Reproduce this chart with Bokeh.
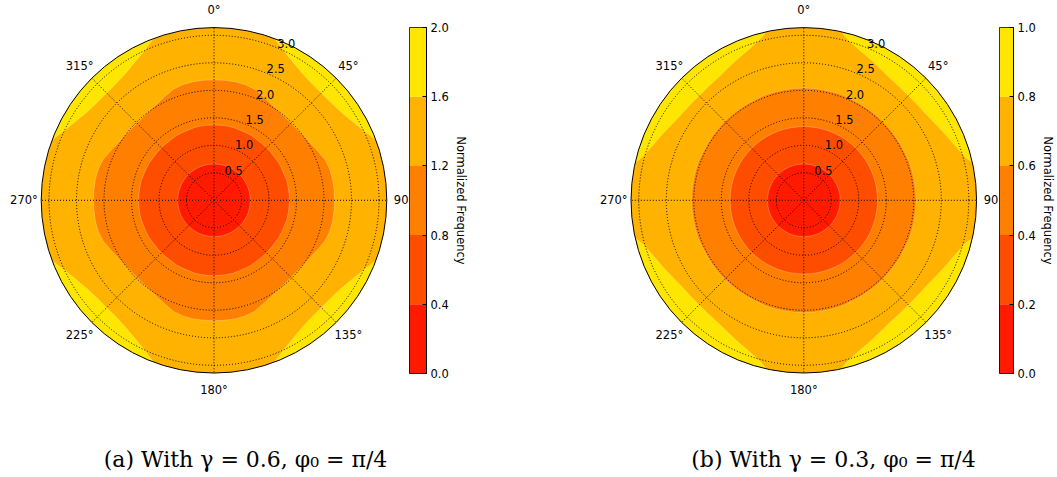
import numpy as np
from bokeh.plotting import figure
from bokeh.layouts import row
from bokeh.models import Range1d, FixedTicker, NumeralTickFormatter
from bokeh.core.properties import value
from bokeh.embed import file_html
from bokeh.resources import INLINE

# ---------------- data ----------------
levels_a = [0.0, 0.4, 0.8, 1.2, 1.6, 2.0]
levels_b = [0.0, 0.2, 0.4, 0.6, 0.8, 1.0]
band_colors = ["#ff1a00", "#ff4d00", "#ff8000", "#ffb300", "#ffe600"]

# contour boundary radii on the first octant (degrees clockwise from 0 deg)
octant_deg = [0, 5, 10, 15, 20, 25, 30, 35, 40, 45]

# (a) gamma = 0.6
a_r_lvl1 = [0.66, 0.66, 0.66, 0.66, 0.66, 0.66, 0.66, 0.66, 0.66, 0.66]
a_r_lvl2 = [1.37, 1.37, 1.37, 1.37, 1.36, 1.36, 1.36, 1.35, 1.35, 1.35]
a_r_lvl3 = [2.19, 2.19, 2.19, 2.18, 2.15, 2.09, 2.04, 2.01, 1.99, 1.98]
a_yellow_deg = [20.5, 25, 30, 35, 40, 45]
a_yellow_r = [3.1416, 3.00, 2.89, 2.81, 2.77, 2.76]

# (b) gamma = 0.3
b_r_lvl1 = [0.66, 0.66, 0.66, 0.66, 0.66, 0.66, 0.66, 0.66, 0.66, 0.66]
b_r_lvl2 = [1.34, 1.34, 1.34, 1.34, 1.34, 1.34, 1.34, 1.34, 1.34, 1.34]
b_r_lvl3 = [2.04, 2.04, 2.04, 2.04, 2.04, 2.03, 2.03, 2.03, 2.03, 2.03]
b_yellow_deg = [12.5, 15, 20, 25, 30, 35, 40, 45]
b_yellow_r = [3.1416, 3.04, 2.92, 2.84, 2.77, 2.72, 2.70, 2.69]

r_max = np.pi
ring_r = [0.5, 1.0, 1.5, 2.0, 2.5, 3.0]
ring_labels = ["0.5", "1.0", "1.5", "2.0", "2.5", "3.0"]
spoke_deg = [0, 45, 90, 135, 180, 225, 270, 315]
spoke_labels = ["0°", "45°", "90°", "135°", "180°", "225°", "270°", "315°"]
captions = ["(a) With γ = 0.6, φ₀ = π/4", "(b) With γ = 0.3, φ₀ = π/4"]
cbar_title = "Normalized Frequency"

FONT = "DejaVu Sans"
FS = "11.5px"
PX = 55.0  # pixels per radial unit
H = 477


def to_xy(deg, r):
    t = np.radians(np.asarray(deg, float))
    r = np.asarray(r, float)
    return r * np.sin(t), r * np.cos(t)


def closed_curve(deg, r):
    deg = np.asarray(deg, float)
    r = np.asarray(r, float)
    q_deg = np.concatenate([deg, 90 - deg[::-1][1:]])
    q_r = np.concatenate([r, r[::-1][1:]])
    all_deg = np.concatenate([q_deg[:-1] + 90 * k for k in range(4)])
    all_r = np.concatenate([q_r[:-1]] * 4)
    return to_xy(all_deg, all_r)


def corners(deg, r):
    deg = np.asarray(deg, float)
    r = np.asarray(r, float)
    side_deg = np.concatenate([deg, 90 - deg[::-1][1:]])
    side_r = np.concatenate([r, r[::-1][1:]])
    arc_deg = np.linspace(side_deg[-1], side_deg[0], 60)
    d = np.concatenate([side_deg, arc_deg])
    rr = np.concatenate([side_r, np.full(len(arc_deg), r_max)])
    xs, ys = [], []
    for k in range(4):
        x, y = to_xy(d + 90 * k, rr)
        xs.append(list(x))
        ys.append(list(y))
    return xs, ys


def polar_fig(width, cx, cy, lvl1, lvl2, lvl3, ydeg, yr, caption, cap_x):
    p = figure(width=width, height=H,
               x_range=Range1d(-cx / PX, (width - cx) / PX),
               y_range=Range1d(-(H - cy) / PX, cy / PX),
               output_backend="svg", toolbar_location=None, min_border=0,
               x_axis_location=None, y_axis_location=None, frame_align=False)
    p.xgrid.visible = False
    p.ygrid.visible = False
    p.outline_line_color = None
    p.background_fill_color = "white"
    p.border_fill_color = "white"

    # background band (1.2-1.6 / 0.6-0.8)
    p.circle(x=[0], y=[0], radius=r_max, fill_color=band_colors[3], line_color=None)
    # top band corners
    xs, ys = corners(ydeg, yr)
    p.patches(xs=xs, ys=ys, fill_color=band_colors[4], line_color="white",
              line_alpha=0.35, line_width=0.7)
    for rv, col in ((lvl3, band_colors[2]), (lvl2, band_colors[1]), (lvl1, band_colors[0])):
        x, y = closed_curve(octant_deg, rv)
        p.patch(x=x, y=y, fill_color=col, line_color="white", line_alpha=0.35, line_width=0.7)

    # dotted grid
    p.circle(x=[0] * len(ring_r), y=[0] * len(ring_r), radius=ring_r, fill_color=None,
             line_color="black", line_dash="1 2", line_width=1)
    p.ray(x=[0] * len(spoke_deg), y=[0] * len(spoke_deg), length=r_max,
          angle=[90 - d for d in spoke_deg], angle_units="deg",
          line_color="black", line_dash="1 2", line_width=1)
    # outer circle
    p.circle(x=[0], y=[0], radius=r_max, fill_color=None, line_color="black", line_width=1)

    # radial labels
    rx, ry = to_xy([22.5] * len(ring_r), ring_r)
    p.text(x=list(rx), y=list(ry), text=ring_labels, text_font=value(FONT),
           text_font_size=FS, text_align="left", text_baseline="bottom", text_color="black")
    # angular labels
    ax, ay = to_xy(spoke_deg, [1.1 * r_max] * len(spoke_deg))
    p.text(x=list(ax), y=list(ay), text=spoke_labels, text_font=value(FONT),
           text_font_size=FS, text_align="center", text_baseline="middle", text_color="black")
    # caption
    p.text(x=[(cap_x - cx) / PX], y=[(cy - 459) / PX], text=[caption],
           text_font=value("DejaVu Serif"), text_font_size="22px",
           text_align="center", text_baseline="alphabetic", text_color="black")
    return p


def cbar_fig(width, levels):
    p = figure(width=width, height=H, x_range=Range1d(0, 1),
               y_range=Range1d(levels[0], levels[-1]),
               output_backend="svg", toolbar_location=None,
               min_border_left=0, min_border_right=width - 17,
               min_border_top=27, min_border_bottom=H - 373,
               x_axis_location=None, y_axis_location="right", frame_align=False)
    p.xgrid.visible = False
    p.ygrid.visible = False
    p.quad(left=0, right=1, bottom=levels[:-1], top=levels[1:],
           fill_color=band_colors, line_color=None)
    p.outline_line_color = "black"
    p.outline_line_width = 1
    ax = p.yaxis[0]
    ax.ticker = FixedTicker(ticks=levels)
    ax.formatter = NumeralTickFormatter(format="0.0")
    ax.major_tick_in = 4
    ax.major_tick_out = 0
    ax.minor_tick_in = 0
    ax.minor_tick_out = 0
    ax.major_label_standoff = 4
    ax.major_label_text_font = FONT
    ax.major_label_text_font_size = FS
    ax.major_label_text_color = "black"
    ax.axis_label = cbar_title
    ax.axis_label_text_font = FONT
    ax.axis_label_text_font_size = FS
    ax.axis_label_text_font_style = "normal"
    ax.axis_label_text_color = "black"
    ax.axis_label_standoff = 2
    ax.axis_line_color = "black"
    p.background_fill_color = "white"
    p.border_fill_color = "white"
    return p


pa = polar_fig(409, 213.5, 199.8, a_r_lvl1, a_r_lvl2, a_r_lvl3,
               a_yellow_deg, a_yellow_r, captions[0], 245)
ca = cbar_fig(181, levels_a)
pb = polar_fig(409, 213.3, 199.8, b_r_lvl1, b_r_lvl2, b_r_lvl3,
               b_yellow_deg, b_yellow_r, captions[1], 833 - 590)
cb = cbar_fig(58, levels_b)

layout = row(pa, ca, pb, cb, spacing=0)
open("out.html", "w").write(file_html(layout, INLINE))
